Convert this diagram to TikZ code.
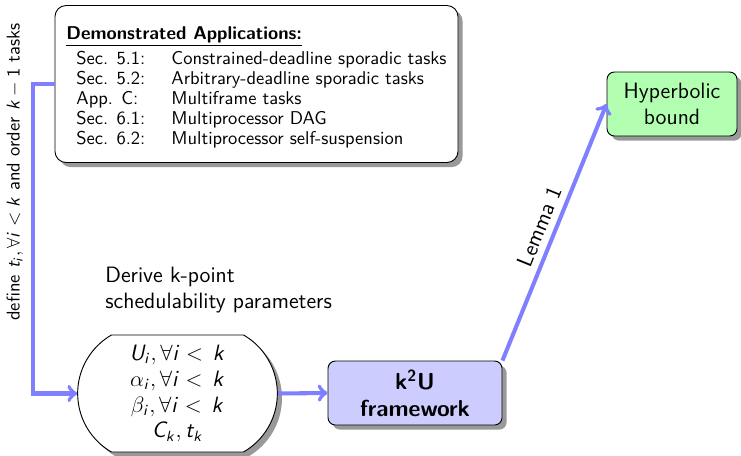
\documentclass[tikz,border=0pt]{standalone}
\usetikzlibrary{shapes.misc,shadows}
\DeclareSymbolFont{sfit}{OT1}{cmss}{m}{sl}
\DeclareSymbolFont{sfup}{OT1}{cmss}{m}{n}
\DeclareMathSymbol{U}{\mathalpha}{sfit}{`U}
\DeclareMathSymbol{C}{\mathalpha}{sfit}{`C}
\DeclareMathSymbol{i}{\mathalpha}{sfit}{`i}
\DeclareMathSymbol{k}{\mathalpha}{sfit}{`k}
\DeclareMathSymbol{t}{\mathalpha}{sfit}{`t}
\DeclareMathSymbol{1}{\mathalpha}{sfup}{`1}
\begin{document}
\begin{tikzpicture}[x=0.54pt,y=-0.54pt,font=\sffamily,
  box/.style={draw=black,line width=0.5pt,
    drop shadow={shadow xshift=2.5pt,shadow yshift=-2.5pt,fill=black,opacity=0.4}},
  flow/.style={draw=blue!50,line width=2.2pt,->}]
\useasboundingbox (0,0) rectangle (741,455);

\node[box,fill=white,rounded corners=6pt,inner sep=0pt,
  minimum width=403*0.54pt,minimum height=157*0.54pt] (apps) at (256.5,84)
 {\renewcommand{\arraystretch}{0.9}%
  \begin{tabular}{@{}l@{}l@{}}
  \multicolumn{2}{@{}l@{}}{\rule{0pt}{12pt}\underline{\textbf{Demonstrated Applications:}}}\\[3pt]
  \hspace{5.4pt}\makebox[51.3pt][l]{Sec. 5.1:} & Constrained-deadline sporadic tasks\\
  \hspace{5.4pt}\makebox[51.3pt][l]{Sec. 5.2:} & Arbitrary-deadline sporadic tasks\\
  \hspace{5.4pt}\makebox[51.3pt][l]{App. C:} & Multiframe tasks\\
  \hspace{5.4pt}\makebox[51.3pt][l]{Sec. 6.1:} & Multiprocessor DAG\\
  \hspace{5.4pt}\makebox[51.3pt][l]{Sec. 6.2:} & Multiprocessor self-suspension
 \end{tabular}};

\node[rotate=90,inner sep=0pt] (deflabel) at (15,172)
 {define $t_i, \forall i < k$ and order $k-1$ tasks};

\node[anchor=west,align=left,inner sep=0pt,font=\sffamily\large] (derive) at (105,290)
 {Derive k-point\\schedulability parameters};

\node[box,fill=white,rounded rectangle,rounded rectangle arc length=120,
  minimum width=212*0.54pt,minimum height=117*0.54pt,align=center,
  font=\sffamily\large] (params) at (177.5,393.5)
 {$U_i, \forall i <\, k$\\ $\alpha_i, \forall i <\, k$\\ $\beta_i, \forall i <\, k$\\ $C_k, t_k$};

\node[box,fill=blue!20,rounded corners=4pt,align=center,
  minimum width=174*0.54pt,minimum height=64*0.54pt,
  font=\sffamily\bfseries\fontsize{12.5}{14.6}\selectfont] (k2u) at (415,393)
 {k\textsuperscript{2}U\\framework};

\node[box,fill=green!30,rounded corners=4pt,align=center,
  minimum width=130*0.54pt,minimum height=64*0.54pt,
  font=\sffamily\large] (hyp) at (672,104)
 {Hyperbolic\\bound};

\coordinate (rail) at (33,0);
\draw[flow] (apps.west) -- (apps.west -| rail) |- (params.west);
\draw[flow] (params.east) -- (k2u.west);
\draw[flow] (k2u.north east) -- node[sloped,above,pos=0.5,font=\sffamily\large,text=black] (lemma) {Lemma 1} (hyp.west);
\end{tikzpicture}
\end{document}
